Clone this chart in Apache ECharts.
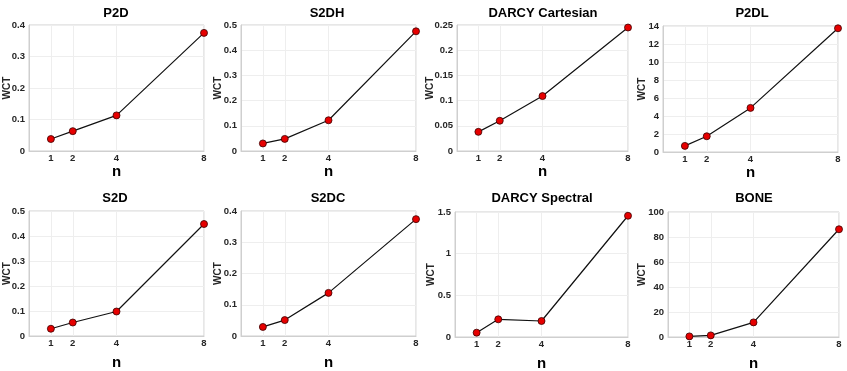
<!DOCTYPE html>
<html>
<head>
<meta charset="utf-8">
<script src="https://cdn.jsdelivr.net/npm/echarts@6/dist/echarts.min.js"></script>
<style>
  html, body { margin: 0; padding: 0; background: #fff; }
  #chart { width: 847px; height: 371px; }
</style>
</head>
<body>
<div id="chart"></div>
<script>
// n values (x) shared by every panel
const nValues = [1, 2, 4, 8]

const titles = ['P2D', 'S2DH', 'DARCY Cartesian', 'P2DL', 'S2D', 'S2DC', 'DARCY Spectral', 'BONE']

// WCT per panel
const wctP2D = [0.038, 0.063, 0.113, 0.375]
const wctS2DH = [0.030, 0.048, 0.122, 0.475]
const wctDarcyCart = [0.038, 0.060, 0.109, 0.245]
const wctP2DL = [0.68, 1.75, 4.9, 13.75]
const wctS2D = [0.029, 0.054, 0.098, 0.448]
const wctS2DC = [0.029, 0.051, 0.138, 0.374]
const wctDarcySpec = [0.052, 0.212, 0.192, 1.455]
const wctBone = [0.5, 1.3, 11.7, 86.2]

// y axis ranges (max, step)
const yMax = [0.4, 0.5, 0.25, 14, 0.5, 0.4, 1.5, 100]
const yStep = [0.1, 0.1, 0.05, 2, 0.1, 0.1, 0.5, 20]

const allData = [wctP2D, wctS2DH, wctDarcyCart, wctP2DL, wctS2D, wctS2DC, wctDarcySpec, wctBone]

// panel boxes in pixels: left, right, top, bottom
const boxes = [
  [29, 204, 25, 151],
  [241, 416, 25, 151],
  [457, 628, 25, 151],
  [663, 838, 26, 152],
  [29, 204, 211, 336],
  [241, 416, 211, 336],
  [455, 628, 212, 337],
  [668, 839, 212, 337]
]
const titleX = [111, 322, 538, 747, 110, 323, 537, 749]
const yNameGap = [17, 18, 22, 16, 17, 18, 19, 21]

const textColor = '#262626'
const fontFam = 'Liberation Sans, Arial, sans-serif'

const grid = [], xAxis = [], yAxis = [], series = [], title = []

boxes.forEach((b, i) => {
  const row = i < 4 ? 0 : 1
  grid.push({
    left: b[0], top: b[2], width: b[1] - b[0], height: b[3] - b[2],
    outerBoundsMode: 'none',
    show: true, borderColor: '#cfcfcf', borderWidth: 1, backgroundColor: '#fff'
  })
  title.push({
    text: titles[i],
    left: titleX[i], top: row === 0 ? 2 : 187,
    textAlign: 'center',
    textStyle: { fontFamily: fontFam, fontSize: 13, fontWeight: 'bold', color: '#000' }
  })
  xAxis.push({
    type: 'value', gridIndex: i, min: 0, max: 8,
    name: 'n', nameLocation: 'middle', nameGap: row === 0 ? 13 : 19,
    nameMoveOverlap: false,
    nameTextStyle: { fontFamily: fontFam, fontSize: 15, fontWeight: 'bold', color: '#000' },
    axisLine: { show: true, lineStyle: { color: '#cfcfcf' } },
    axisTick: { show: false, customValues: nValues },
    axisLabel: {
      customValues: nValues, margin: 2,
      fontFamily: fontFam, fontSize: 9.5, fontWeight: 'bold', color: textColor
    },
    splitLine: { show: false }
  })
  yAxis.push({
    type: 'value', gridIndex: i, min: 0, max: yMax[i], interval: yStep[i],
    name: 'WCT', nameLocation: 'middle', nameGap: yNameGap[i],
    nameMoveOverlap: false,
    nameTextStyle: { fontFamily: fontFam, fontSize: 10, fontWeight: 'bold', color: textColor },
    axisLine: { show: true, lineStyle: { color: '#cfcfcf' } },
    axisTick: { show: false },
    axisLabel: {
      margin: 4, fontFamily: fontFam, fontSize: 9.5, fontWeight: 'bold', color: textColor
    },
    splitLine: { show: true, lineStyle: { color: '#eeeeee', width: 1 } }
  })
  series.push({
    type: 'line', xAxisIndex: i, yAxisIndex: i,
    data: nValues.map((n, k) => [n, allData[i][k]]),
    symbol: 'circle', symbolSize: 7,
    lineStyle: { color: '#111', width: 1.2 },
    itemStyle: { color: '#e60000', borderColor: '#3a0000', borderWidth: 0.8 },
    animation: false,
    markLine: {
      silent: true, symbol: 'none', label: { show: false },
      lineStyle: { color: '#eeeeee', width: 1, type: 'solid' },
      data: nValues.map(n => ({ xAxis: n })),
      z: 0, animation: false
    }
  })
})

const chart = echarts.init(document.getElementById('chart'))
chart.setOption({
  animation: false,
  title: title,
  grid: grid,
  xAxis: xAxis,
  yAxis: yAxis,
  series: series
})
</script>
</body>
</html>
